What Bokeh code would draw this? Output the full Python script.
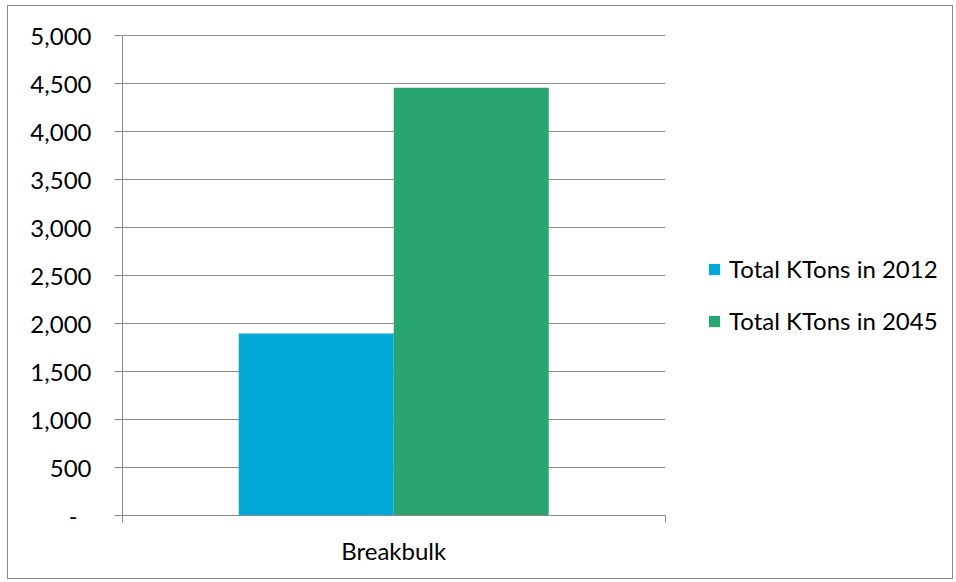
from bokeh.plotting import figure
from bokeh.models import Range1d, FixedTicker, NumeralTickFormatter, Legend, LegendItem, ColumnDataSource
from bokeh.embed import file_html
from bokeh.resources import INLINE

# ---- data ----
categories = ["Breakbulk"]
series_names = ["Total KTons in 2012", "Total KTons in 2045"]
ktons_2012 = [1895]
ktons_2045 = [4455]
y_ticks = [0, 500, 1000, 1500, 2000, 2500, 3000, 3500, 4000, 4500, 5000]
series_colors = ["#02A9D6", "#29A573"]

GRID = "#898989"
FONT = "Lato"
FS = "24px"

n = len(categories)
# plot area is 542.5 px wide inside a wider frame that also holds the legend
FRAME_W = 946 - 114
PLOT_W = 542.5
x_end = n * FRAME_W / PLOT_W

p = figure(width=946, height=574, output_backend="svg", toolbar_location=None,
           x_range=Range1d(0, x_end), y_range=Range1d(y_ticks[0], y_ticks[-1] + 10),
           min_border_left=114, min_border_right=0, min_border_top=28, min_border_bottom=65)
p.styles = {"border": "1px solid #898989", "margin-left": "7px", "margin-top": "5px"}
p.outline_line_color = None
p.background_fill_color = "white"
p.border_fill_color = "white"

# horizontal gridlines limited to the plot area
p.xgrid.visible = False
p.ygrid.visible = False
p.segment(x0=[0] * len(y_ticks), x1=[n] * len(y_ticks), y0=y_ticks, y1=y_ticks,
          line_color=GRID, line_width=1)

bar_w = 1.0 / 3.5
offsets = [-bar_w / 2, bar_w / 2]
renderers = []
for vals, off, col in zip([ktons_2012, ktons_2045], offsets, series_colors):
    src = ColumnDataSource(dict(x=[i + 0.5 + off for i in range(n)], top=vals))
    r = p.vbar(x="x", top="top", bottom=0, width=bar_w, source=src,
               fill_color=col, line_color=None)
    renderers.append(r)

# y axis
ya = p.yaxis[0]
ya.bounds = (y_ticks[0], y_ticks[-1])
ya.ticker = FixedTicker(ticks=y_ticks)
ya.formatter = NumeralTickFormatter(format="0,0")
ya.major_label_overrides = {0: "-\u2007"}
ya.axis_line_color = GRID
ya.major_tick_line_color = GRID
ya.major_tick_out = 8
ya.major_tick_in = 0
ya.minor_tick_line_color = None
ya.major_label_standoff = 23
ya.major_label_text_font = FONT
ya.major_label_text_font_size = FS
ya.major_label_text_color = "black"

# x axis
xa = p.xaxis[0]
xa.bounds = (0, n)
xa.ticker = FixedTicker(ticks=[i + 0.5 for i in range(n)], minor_ticks=[float(i) for i in range(n + 1)])
xa.major_label_overrides = {i + 0.5: c for i, c in enumerate(categories)}
xa.axis_line_color = GRID
xa.major_tick_line_color = None
xa.major_tick_out = 0
xa.major_tick_in = 0
xa.minor_tick_line_color = GRID
xa.minor_tick_out = 7
xa.minor_tick_in = 0
xa.major_label_standoff = 13
xa.major_label_text_font = FONT
xa.major_label_text_font_size = FS
xa.major_label_text_color = "black"

legend = Legend(items=[LegendItem(label=nm, renderers=[r]) for nm, r in zip(series_names, renderers)],
                location=(585, 180), orientation="vertical",
                glyph_width=14, glyph_height=14, label_height=26, label_standoff=8,
                spacing=23, padding=0, margin=0, border_line_color=None,
                background_fill_alpha=0, label_text_font=FONT, label_text_font_size=FS,
                label_text_color="black")
p.add_layout(legend)

open("out.html", "w").write(file_html(p, INLINE))
